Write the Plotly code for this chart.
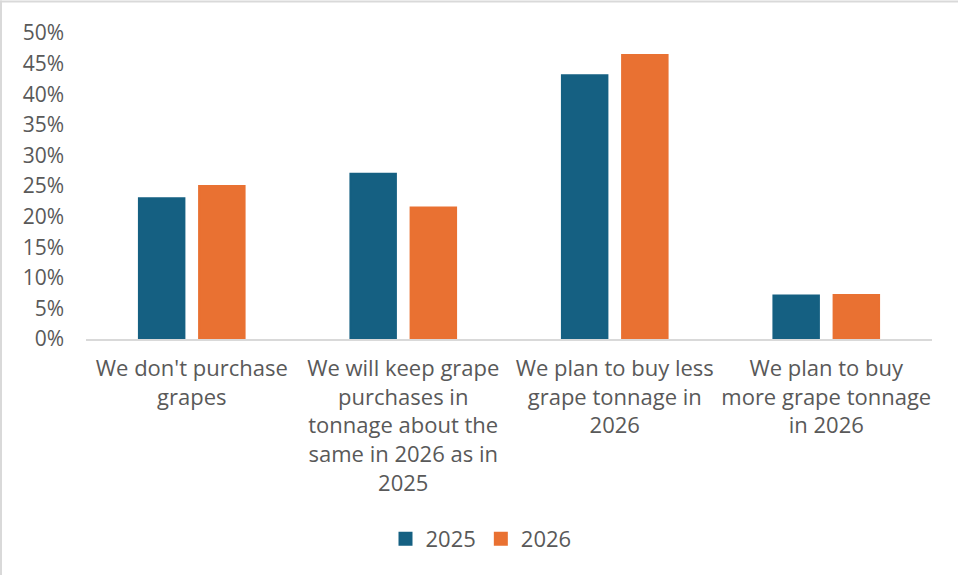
import plotly.graph_objects as go

categories = [
    "We don't purchase<br>grapes",
    "We will keep grape<br>purchases in<br>tonnage about the<br>same in 2026 as in<br>2025",
    "We plan to buy less<br>grape tonnage in<br>2026",
    "We plan to buy<br>more grape tonnage<br>in 2026",
]
share_2025 = [0.230, 0.270, 0.431, 0.071]
share_2026 = [0.250, 0.215, 0.464, 0.072]
y_ticks = [0, 0.05, 0.10, 0.15, 0.20, 0.25, 0.30, 0.35, 0.40, 0.45, 0.50]

BLUE = "#156082"
ORANGE = "#E97132"
TEXT = "#595959"
RULE = "#D9D9D9"
FONT = "Open Sans, Liberation Sans, Arial, sans-serif"

fig = go.Figure()
fig.add_trace(go.Bar(name="2025", x=categories, y=share_2025,
                     marker=dict(color=BLUE, line=dict(color=BLUE, width=2))))
fig.add_trace(go.Bar(name="2026", x=categories, y=share_2026,
                     marker=dict(color=ORANGE, line=dict(color=ORANGE, width=2))))

W, H = 959, 575
ml, mr, mt, mb = 86, 27, 32.5, 235.5
pw, ph = W - ml - mr, H - mt - mb

def px_x(p):
    return (p - ml) / pw

def px_y(p):
    return (H - mb - p) / ph

fig.update_layout(
    width=W,
    height=H,
    margin=dict(l=ml, r=mr, t=mt, b=mb, autoexpand=False),
    paper_bgcolor="white",
    plot_bgcolor="white",
    barmode="group",
    bargap=0.431,
    bargroupgap=0.244,
    font=dict(family=FONT, size=22, color=TEXT),
    showlegend=True,
    legend=dict(
        orientation="h",
        x=px_x(481),
        xanchor="center",
        y=px_y(540),
        yanchor="middle",
        font=dict(family=FONT, size=22, color=TEXT),
        traceorder="normal",
        itemwidth=30,
    ),
    xaxis=dict(
        showline=True,
        linecolor=RULE,
        linewidth=1.5,
        showgrid=False,
        ticks="",
        tickangle=0,
        ticklabelstandoff=9,
        tickfont=dict(family=FONT, size=22, color=TEXT),
    ),
    yaxis=dict(
        range=[0, 0.5],
        tickvals=y_ticks,
        tickformat=".0%",
        showgrid=False,
        zeroline=False,
        showline=False,
        ticks="",
        ticklabelstandoff=21,
        tickfont=dict(family=FONT, size=21, color=TEXT),
    ),
    shapes=[
        dict(type="line", xref="paper", yref="paper",
             x0=px_x(1), x1=px_x(1), y0=px_y(0), y1=px_y(H + 5),
             line=dict(color=RULE, width=2)),
        dict(type="line", xref="paper", yref="paper",
             x0=px_x(0), x1=px_x(958), y0=px_y(1), y1=px_y(1),
             line=dict(color=RULE, width=2)),
    ],
)

fig.write_html("out.html")
